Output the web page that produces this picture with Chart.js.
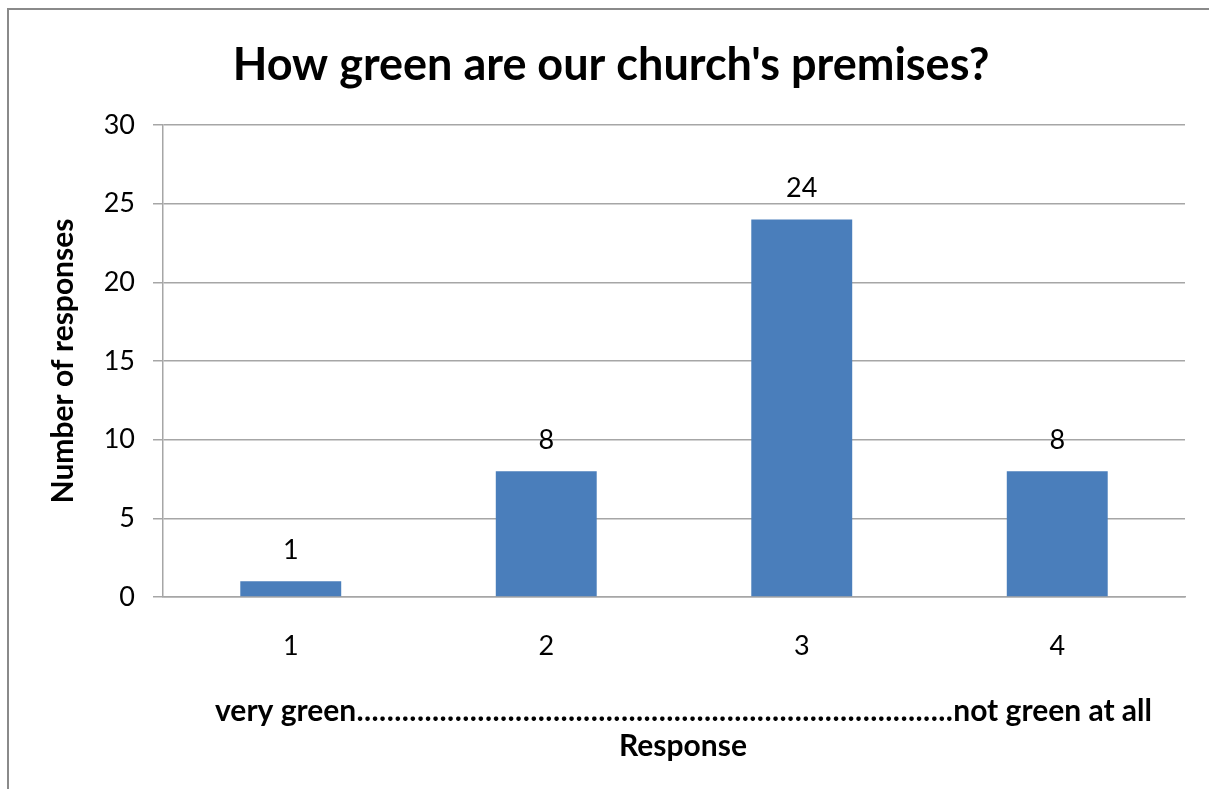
<!DOCTYPE html>
<html>
<head>
<meta charset="utf-8">
<script src="https://cdn.jsdelivr.net/npm/chart.js@4.4.1/dist/chart.umd.min.js"></script>
<style>
  html, body { margin: 0; padding: 0; background: #ffffff; }
  #wrap { width: 1209px; height: 789px; position: relative; }
</style>
</head>
<body>
<div id="wrap"><canvas id="c" width="1209" height="789"></canvas></div>
<script>
const categories = ['1', '2', '3', '4'];
const responses = [1, 8, 24, 8];
const yTicks = [0, 5, 10, 15, 20, 25, 30];
const chartTitle = "How green are our church's premises?";
const xScaleLeft = 'very green';
const xScaleDots = '...............................................................................';
const xScaleRight = 'not green at all';
const xTitle = 'Response';
const yTitle = 'Number of responses';

const FONT = 'Lato, "Open Sans", sans-serif';

const frameAndTitles = {
  id: 'frameAndTitles',
  beforeDraw(chart) {
    const ctx = chart.ctx;
    ctx.save();
    ctx.fillStyle = '#ffffff';
    ctx.fillRect(0, 0, chart.width, chart.height);
    ctx.strokeStyle = '#8a8a8a';
    ctx.lineWidth = 2;
    ctx.beginPath();
    ctx.moveTo(8, chart.height);
    ctx.lineTo(8, 9);
    ctx.lineTo(chart.width, 9);
    ctx.stroke();
    ctx.restore();
  },
  afterDraw(chart) {
    const ctx = chart.ctx;
    const area = chart.chartArea;
    ctx.save();
    ctx.fillStyle = '#000000';
    ctx.textBaseline = 'middle';
    // chart title
    ctx.font = 'bold 45px ' + FONT;
    ctx.textAlign = 'center';
    ctx.fillText(chartTitle, 611, 65);
    // x axis scale description line
    ctx.font = 'bold 30px ' + FONT;
    const yLine1 = area.bottom + 114;
    const leftX = 215, rightX = 1152;
    ctx.textAlign = 'left';
    ctx.fillText(xScaleLeft, leftX, yLine1);
    const wl = ctx.measureText(xScaleLeft).width;
    ctx.textAlign = 'right';
    ctx.fillText(xScaleRight, rightX, yLine1);
    const wr = ctx.measureText(xScaleRight).width;
    const gapStart = leftX + wl, gapEnd = rightX - wr;
    ctx.textAlign = 'left';
    const wd = ctx.measureText(xScaleDots).width;
    const sp = (gapEnd - gapStart - wd) / xScaleDots.length;
    if ('letterSpacing' in ctx) ctx.letterSpacing = sp.toFixed(2) + 'px';
    ctx.fillText(xScaleDots, gapStart + (('letterSpacing' in ctx) ? sp / 2 : (gapEnd - gapStart - wd) / 2), yLine1);
    if ('letterSpacing' in ctx) ctx.letterSpacing = '0px';
    // x axis title
    ctx.textAlign = 'center';
    ctx.fillText(xTitle, 683, area.bottom + 149);
    ctx.restore();
  }
};

const valueLabels = {
  id: 'valueLabels',
  afterDatasetsDraw(chart) {
    const ctx = chart.ctx;
    const meta = chart.getDatasetMeta(0);
    ctx.save();
    ctx.fillStyle = '#000000';
    ctx.font = '27px ' + FONT;
    ctx.textAlign = 'center';
    ctx.textBaseline = 'alphabetic';
    meta.data.forEach((bar, i) => {
      ctx.fillText(String(responses[i]), bar.x, bar.y - 22);
    });
    ctx.restore();
  }
};

new Chart(document.getElementById('c'), {
  type: 'bar',
  data: {
    labels: categories,
    datasets: [{
      data: responses,
      backgroundColor: '#4a7ebb',
      borderWidth: 0,
      barPercentage: 1,
      categoryPercentage: 0.395
    }]
  },
  options: {
    responsive: false,
    animation: false,
    devicePixelRatio: 1,
    layout: { padding: { left: 10, right: 24, top: 125, bottom: 20 } },
    plugins: {
      legend: { display: false },
      title: { display: false },
      tooltip: { enabled: false }
    },
    scales: {
      x: {
        grid: { display: false, drawTicks: false },
        border: { display: true, color: '#a6a6a6', width: 1.5 },
        ticks: { color: '#000000', font: { family: FONT, size: 27 }, padding: 33 },
        title: { display: false },
        afterFit(scale) { scale.height = 789 - 597 - 20; }
      },
      y: {
        min: 0,
        max: 30,
        afterBuildTicks(scale) { scale.ticks = yTicks.map(v => ({ value: v })); },
        grid: { color: '#a6a6a6', lineWidth: 1.5, tickLength: 10, drawTicks: true },
        border: { display: true, color: '#a6a6a6', width: 1.5 },
        ticks: { color: '#000000', font: { family: FONT, size: 27 }, padding: 18 },
        title: {
          display: true,
          text: yTitle,
          color: '#000000',
          font: { family: FONT, size: 30, weight: 'bold', lineHeight: 1.2 },
          padding: { top: 35, bottom: 0 }
        },
        afterFit(scale) { scale.width = 163 - 10; }
      }
    }
  },
  plugins: [frameAndTitles, valueLabels]
});
</script>
</body>
</html>
